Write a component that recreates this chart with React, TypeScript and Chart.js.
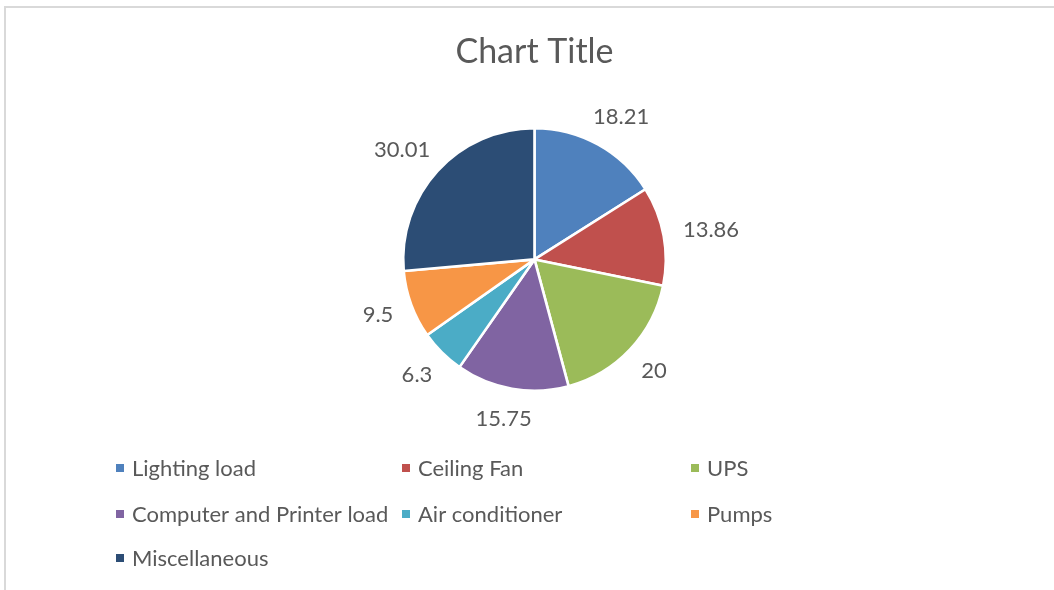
import React, { useEffect, useRef } from 'react';
import { Chart, registerables } from 'chart.js';

Chart.register(...registerables);

const categories = [
  'Lighting load',
  'Ceiling Fan',
  'UPS',
  'Computer and Printer load',
  'Air conditioner',
  'Pumps',
  'Miscellaneous',
];
const values = [18.21, 13.86, 20, 15.75, 6.3, 9.5, 30.01];
const valueLabels = ['18.21', '13.86', '20', '15.75', '6.3', '9.5', '30.01'];
const colors = ['#4F81BD', '#C0504D', '#9BBB59', '#8064A2', '#4BACC6', '#F79646', '#2C4D75'];
const chartTitle = 'Chart Title';

const FONT = 'Lato, "Open Sans", sans-serif';
const TEXT = '#595959';

const dataLabelsPlugin = {
  id: 'outsideLabels',
  afterDatasetsDraw(chart: any) {
    const ctx = chart.ctx;
    const meta = chart.getDatasetMeta(0);
    ctx.save();
    ctx.font = `22px ${FONT}`;
    ctx.fillStyle = TEXT;
    ctx.textAlign = 'center';
    ctx.textBaseline = 'middle';
    meta.data.forEach((arc: any, i: number) => {
      const { x, y, startAngle, endAngle, outerRadius } = arc.getProps(
        ['x', 'y', 'startAngle', 'endAngle', 'outerRadius'],
        true
      );
      const mid = (startAngle + endAngle) / 2;
      const cx = Math.cos(mid);
      const sy = Math.sin(mid);
      const text = valueLabels[i];
      const w = ctx.measureText(text).width;
      const h = 22;
      const off = 20;
      const px = x + (outerRadius + off) * cx + (cx * w) / 2;
      const py = y + (outerRadius + off) * sy + (sy * h) / 2;
      ctx.fillText(text, px, py);
    });
    ctx.restore();
  },
};

const gridLegendPlugin = {
  id: 'gridLegend',
  afterDraw(chart: any) {
    const ctx = chart.ctx;
    ctx.save();
    ctx.font = `22px ${FONT}`;
    ctx.textAlign = 'left';
    ctx.textBaseline = 'middle';
    const colX = [116, 402, 691];
    const rowY = [468, 514, 558];
    categories.forEach((label, i) => {
      const c = i % 3;
      const r = Math.floor(i / 3);
      const x = colX[c];
      const y = rowY[r];
      ctx.fillStyle = colors[i];
      ctx.fillRect(x, y - 4, 8, 8);
      ctx.fillStyle = TEXT;
      ctx.fillText(label, x + 16, y + 1);
    });
    ctx.restore();
  },
};

export default function App() {
  const canvasRef = useRef<HTMLCanvasElement | null>(null);

  useEffect(() => {
    document.body.style.margin = '0';
    document.body.style.overflow = 'hidden';
    const canvas = canvasRef.current;
    if (!canvas) return;
    const chart = new Chart(canvas, {
      type: 'pie',
      data: {
        labels: categories,
        datasets: [
          {
            data: values,
            backgroundColor: colors,
            borderColor: '#ffffff',
            borderWidth: 2.6,
            hoverOffset: 0,
            offset: 0,
          },
        ],
      },
      options: {
        responsive: false,
        animation: false,
        events: [],
        layout: { padding: { top: 0, bottom: 198, left: 30, right: 15 } },
        plugins: {
          legend: { display: false },
          tooltip: { enabled: false },
          title: {
            display: true,
            text: chartTitle,
            color: TEXT,
            font: { family: FONT, size: 34, weight: 'normal' },
            padding: { top: 32, bottom: 54 },
          },
        },
      },
      plugins: [dataLabelsPlugin, gridLegendPlugin],
    });
    return () => chart.destroy();
  }, []);

  return (
    <div style={{ position: 'absolute', left: 0, top: 0, width: 1054, height: 590, background: '#fff' }}>
      <div
        style={{
          position: 'absolute',
          left: 4,
          top: 6,
          width: 1048,
          height: 584,
          borderLeft: '2px solid #d9d9d9',
          borderTop: '2px solid #d9d9d9',
        }}
      />
      <canvas
        ref={canvasRef}
        width={1054}
        height={590}
        style={{ position: 'absolute', left: 0, top: 0, display: 'block' }}
      />
    </div>
  );
}
